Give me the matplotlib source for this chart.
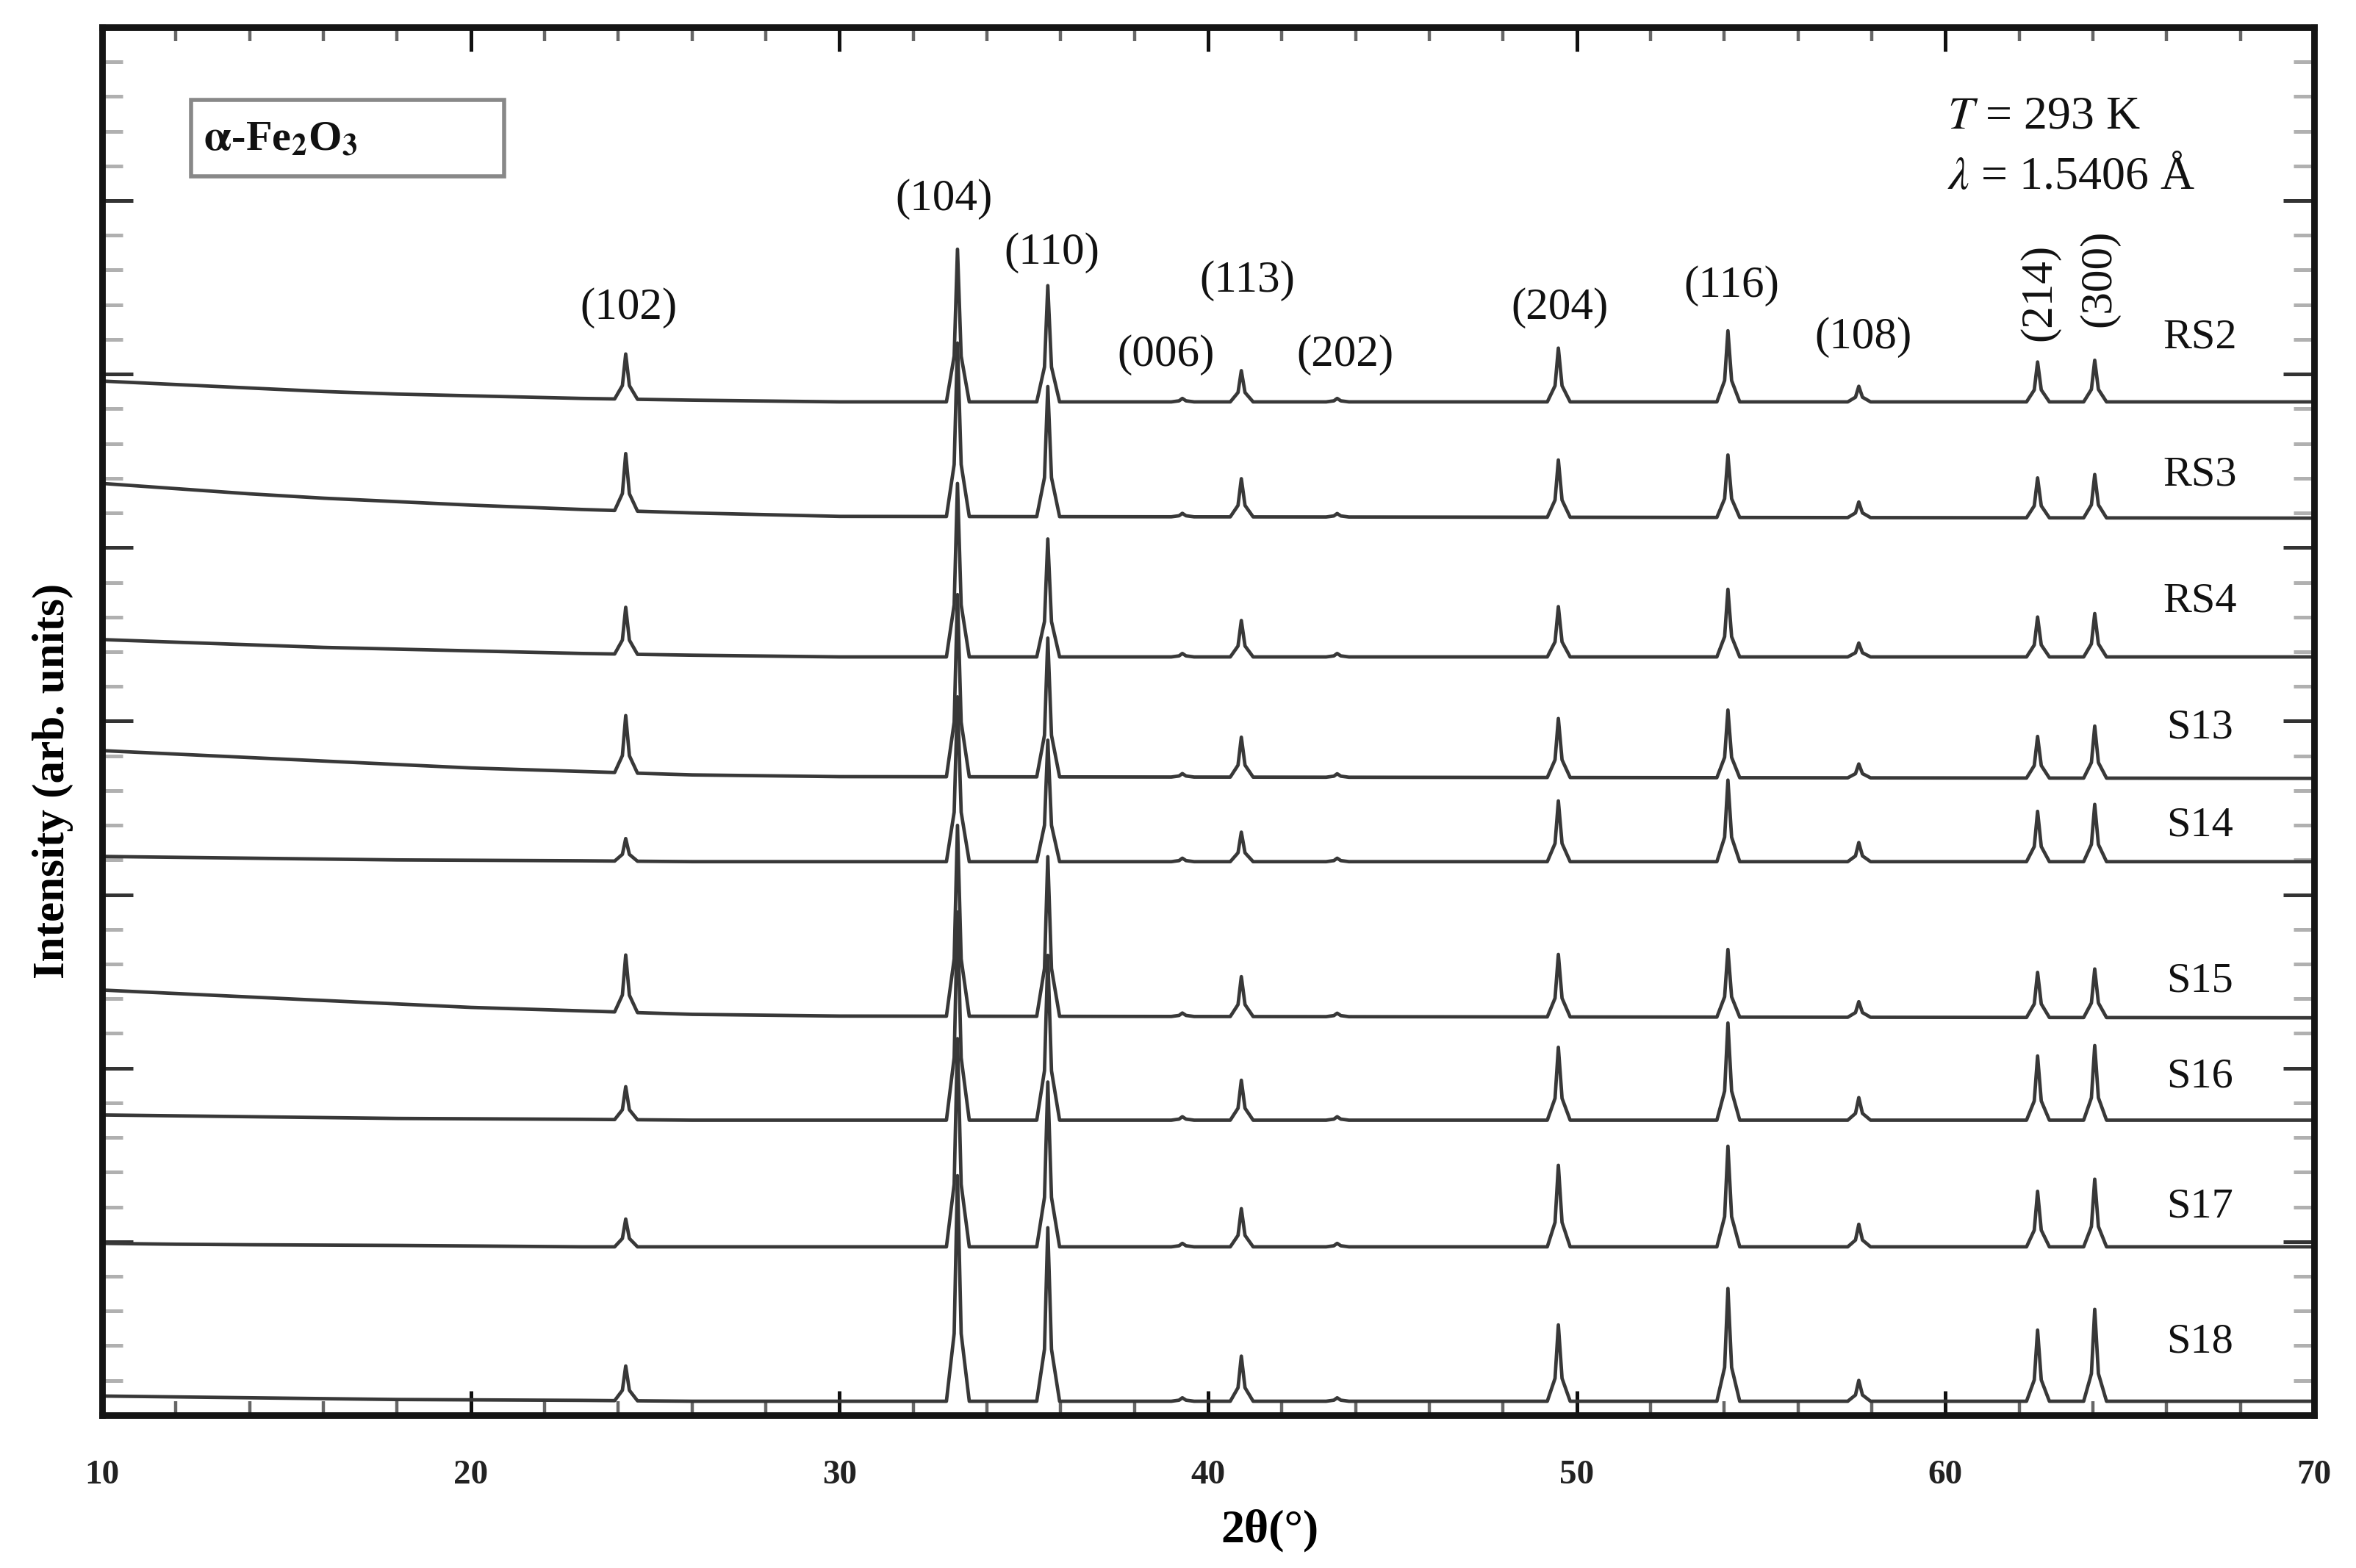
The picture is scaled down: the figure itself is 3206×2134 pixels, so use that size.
import numpy as np
import matplotlib
matplotlib.use("Agg")
import matplotlib.pyplot as plt
from matplotlib.patches import Rectangle
from matplotlib.ticker import MultipleLocator

plt.rcParams['font.family'] = ['Liberation Serif', 'DejaVu Serif']
plt.rcParams['mathtext.fontset'] = 'stix'

# ---------------- data ----------------
hkl = ['(102)', '(104)', '(110)', '(006)', '(113)', '(202)', '(204)', '(116)', '(108)', '(214)', '(300)']
peak_pos = [24.2, 33.2, 35.65, 39.3, 40.9, 43.5, 49.5, 54.1, 57.65, 62.5, 64.05]

samples = ['RS2', 'RS3', 'RS4', 'S13', 'S14', 'S15', 'S16', 'S17', 'S18']
baseline = [5.84, 5.17, 4.37, 3.67, 3.19, 2.29, 1.70, 0.97, 0.08]

h_RS2 = [0.26, 0.88, 0.67, 0.02, 0.18, 0.02, 0.31, 0.41, 0.09, 0.23, 0.24]
h_RS3 = [0.33, 1.00, 0.75, 0.02, 0.22, 0.02, 0.33, 0.36, 0.09, 0.23, 0.25]
h_RS4 = [0.27, 1.00, 0.68, 0.02, 0.21, 0.02, 0.29, 0.39, 0.08, 0.23, 0.25]
h_S13 = [0.33, 1.05, 0.80, 0.02, 0.23, 0.02, 0.34, 0.39, 0.08, 0.24, 0.30]
h_S14 = [0.13, 0.95, 0.70, 0.02, 0.17, 0.02, 0.35, 0.47, 0.11, 0.29, 0.33]
h_S15 = [0.33, 1.10, 0.92, 0.02, 0.23, 0.02, 0.36, 0.39, 0.09, 0.26, 0.28]
h_S16 = [0.19, 1.20, 0.95, 0.02, 0.23, 0.02, 0.42, 0.56, 0.13, 0.37, 0.43]
h_S17 = [0.16, 1.20, 0.95, 0.02, 0.22, 0.02, 0.47, 0.58, 0.13, 0.32, 0.39]
h_S18 = [0.20, 1.30, 1.00, 0.02, 0.26, 0.02, 0.44, 0.65, 0.12, 0.41, 0.53]
heights = [h_RS2, h_RS3, h_RS4, h_S13, h_S14, h_S15, h_S16, h_S17, h_S18]

# low-angle background excess above baseline at these 2theta values
bg_x = [10, 12, 14, 16, 18, 20, 23, 26, 30, 70]
bg_RS2 = [0.12, 0.10, 0.08, 0.06, 0.045, 0.035, 0.02, 0.01, 0.0, 0.0]
bg_RS3 = [0.20, 0.17, 0.14, 0.115, 0.095, 0.075, 0.05, 0.03, 0.01, 0.0]
bg_RS4 = [0.10, 0.085, 0.07, 0.055, 0.045, 0.035, 0.02, 0.01, 0.0, 0.0]
bg_S13 = [0.16, 0.14, 0.12, 0.10, 0.08, 0.06, 0.04, 0.02, 0.01, 0.0]
bg_S14 = [0.03, 0.025, 0.02, 0.015, 0.01, 0.008, 0.005, 0.0, 0.0, 0.0]
bg_S15 = [0.16, 0.14, 0.12, 0.10, 0.08, 0.06, 0.04, 0.02, 0.01, 0.0]
bg_S16 = [0.03, 0.025, 0.02, 0.015, 0.01, 0.008, 0.005, 0.0, 0.0, 0.0]
bg_S17 = [0.02, 0.015, 0.012, 0.01, 0.008, 0.005, 0.0, 0.0, 0.0, 0.0]
bg_S18 = [0.03, 0.025, 0.02, 0.015, 0.01, 0.008, 0.005, 0.0, 0.0, 0.0]
backgrounds = [bg_RS2, bg_RS3, bg_RS4, bg_S13, bg_S14, bg_S15, bg_S16, bg_S17, bg_S18]

# ---------------- figure ----------------
fig = plt.figure(figsize=(16.03, 10.67), dpi=200)
ax = fig.add_axes([0.0434, 0.0975, 0.9388, 0.8852])

# peak shape vertices (offset in 2theta, fraction of height)
shape_dx = [-0.30, -0.09, 0.0, 0.10, 0.32]
shape_fr = [0.0, 0.30, 1.0, 0.30, 0.0]

line_color = '#383838'
for name, b, hts, bg in zip(samples, baseline, heights, backgrounds):
    peak_pts = {}
    for p, h in zip(peak_pos, hts):
        for dx, fr in zip(shape_dx, shape_fr):
            peak_pts[p + dx] = fr * h
    xs = np.array(sorted(set(bg_x) | set(peak_pts.keys())))
    ys = b + np.interp(xs, bg_x, bg) + np.array([peak_pts.get(x, 0.0) for x in xs])
    ax.plot(xs, ys, color=line_color, lw=1.7, solid_joinstyle='round')

ax.set_xlim(10, 70)
ax.set_ylim(0, 8)

# ticks
ax.xaxis.set_major_locator(MultipleLocator(10))
ax.xaxis.set_minor_locator(MultipleLocator(2))
ax.yaxis.set_major_locator(MultipleLocator(1))
ax.yaxis.set_minor_locator(MultipleLocator(0.2))
ax.tick_params(axis='x', which='major', direction='in', top=True, bottom=True,
               length=12, width=1.8, color='#111111', pad=22, labelsize=17)
ax.tick_params(axis='x', which='minor', direction='in', top=True, bottom=True,
               length=7, width=1.6, color='#666666')
ax.tick_params(axis='y', which='major', direction='in', left=True, right=True,
               length=15, width=1.8, color='#333333', labelleft=False)
ax.tick_params(axis='y', which='minor', direction='in', left=True, right=True,
               length=10, width=1.8, color='#b0b0b0')
for lab in ax.get_xticklabels():
    lab.set_fontweight('bold')
    lab.set_color('#222222')

for sp in ax.spines.values():
    sp.set_linewidth(3.2)
    sp.set_color('#151515')

ax.set_xlabel('2θ(°)', fontsize=23, fontweight='bold', va='center')
ax.xaxis.set_label_coords(0.528, -0.083)
ax.set_ylabel('Intensity (arb. units)', fontsize=22, fontweight='bold', va='center')
ax.yaxis.set_label_coords(-0.0224, 0.457)

# peak (hkl) labels
lab_xy = {
    '(102)': (24.27, 6.38, 0), '(104)': (32.83, 7.01, 0), '(110)': (35.76, 6.70, 0),
    '(006)': (38.86, 6.11, 0), '(113)': (41.07, 6.54, 0), '(202)': (43.72, 6.11, 0),
    '(204)': (49.54, 6.38, 0), '(116)': (54.19, 6.51, 0), '(108)': (57.78, 6.21, 0),
    '(214)': (62.55, 6.47, 90), '(300)': (64.18, 6.55, 90),
}
for k in hkl:
    x, y, r = lab_xy[k]
    ax.text(x, y, k, fontsize=22, ha='center', va='center', rotation=r, color='#111111')

# sample labels
sample_lab_y = [6.21, 5.42, 4.69, 3.96, 3.40, 2.50, 1.95, 1.20, 0.42]
for name, y in zip(samples, sample_lab_y):
    ax.text(66.9, y, name, fontsize=21, ha='center', va='center', color='#111111')

# conditions
ax.text(60.05, 7.48, r'$T$ = 293 K', fontsize=23, ha='left', va='center', color='#111111')
ax.text(60.05, 7.13, r'$\lambda$ = 1.5406 Å', fontsize=23, ha='left', va='center', color='#111111')

# phase box
ax.add_patch(Rectangle((12.4, 7.14), 8.5, 0.44, fill=False, edgecolor='#888888', lw=2.0))
ax.text(12.75, 7.35, r'$\mathbf{\alpha}$-Fe$_\mathbf{2}$O$_\mathbf{3}$', fontsize=21,
        fontweight='bold', ha='left', va='center', color='#111111')

fig.savefig('out.png', dpi=200)
